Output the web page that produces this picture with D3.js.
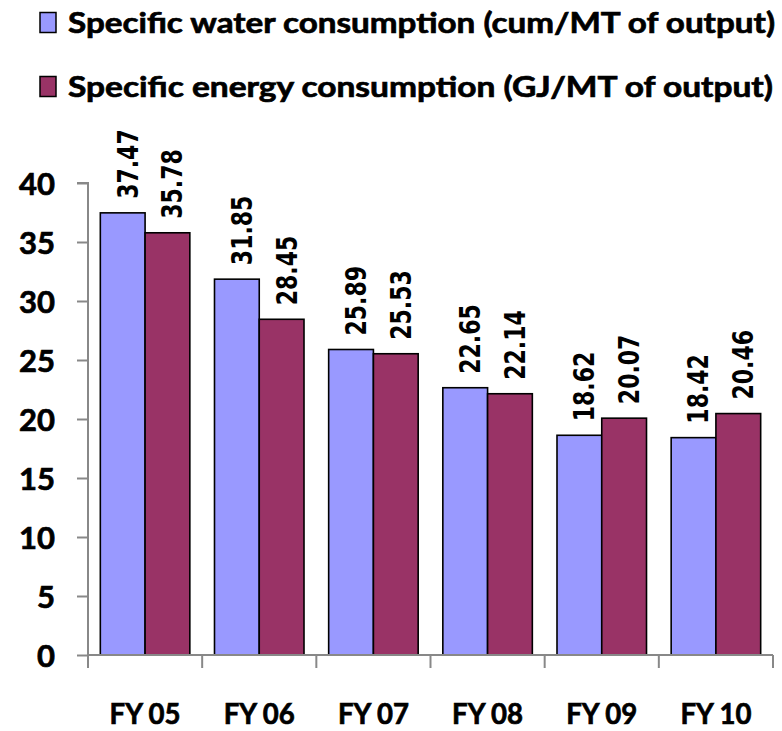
<!DOCTYPE html>
<html>
<head>
<meta charset="utf-8">
<script src="https://cdn.jsdelivr.net/npm/d3@7"></script>
<style>
  html, body { margin: 0; padding: 0; background: #fff; }
  svg { display: block; }
</style>
</head>
<body>
<svg id="chart" width="782" height="731"></svg>
<script>
const categories = ["FY 05", "FY 06", "FY 07", "FY 08", "FY 09", "FY 10"];
const seriesNames = ["Specific water consumption (cum/MT of output)", "Specific energy consumption (GJ/MT of output)"];
const waterValues = [37.47, 31.85, 25.89, 22.65, 18.62, 18.42];
const energyValues = [35.78, 28.45, 25.53, 22.14, 20.07, 20.46];
const yTicks = [0, 5, 10, 15, 20, 25, 30, 35, 40];
const colors = ["#9999FF", "#993366"];

(function () {
const svg = d3.select("#chart");
const mLeft = 88, mRight = 773, mTop = 183, mBottom = 655;

const x0 = d3.scaleBand().domain(categories).range([mLeft, mRight]).padding(0);
const bw = x0.bandwidth();
const pad = bw * 0.108;
const x1 = d3.scaleBand().domain([0, 1]).range([pad, bw - pad]).padding(0);
const y = d3.scaleLinear().domain([0, 40]).range([mBottom, mTop]);

const data = categories.map((c, i) => ({ cat: c, vals: [waterValues[i], energyValues[i]] }));

// bars
const g = svg.append("g");
const groups = g.selectAll("g.cat").data(data).join("g")
  .attr("transform", d => `translate(${x0(d.cat)},0)`);
groups.selectAll("rect").data(d => d.vals.map((v, s) => ({ v, s }))).join("rect")
  .attr("x", d => x1(d.s))
  .attr("width", x1.bandwidth())
  .attr("y", d => y(d.v))
  .attr("height", d => y(0) - y(d.v))
  .attr("fill", d => colors[d.s])
  .attr("stroke", "#000")
  .attr("stroke-width", 1.6);

// value labels
groups.selectAll("text.val").data(d => d.vals.map((v, s) => ({ v, s }))).join("text")
  .attr("class", "val")
  .attr("transform", d => `translate(${x1(d.s) + x1.bandwidth() / 2 + 5},${y(d.v) - 14}) scale(1.25,1) rotate(-90)`)
  .attr("dy", "0.36em")
  .attr("font-family", "DejaVu Sans")
  .attr("font-weight", "bold")
  .attr("font-size", 22)
  .attr("fill", "#000")
  .text(d => d.v.toFixed(2));

// y axis
const yAxis = d3.axisLeft(y).tickValues(yTicks).tickSize(11).tickPadding(22).tickFormat(d3.format("d"));
const ya = svg.append("g").attr("transform", `translate(${mLeft},0)`).call(yAxis);
ya.select(".domain").attr("stroke", "#888").attr("stroke-width", 2).attr("d", `M-11,${y(40)}H0V${y(0)}`);
ya.selectAll(".tick line").attr("stroke", "#888").attr("stroke-width", 2);
ya.selectAll(".tick text")
  .attr("font-family", "Lato")
  .attr("font-weight", "bold")
  .attr("font-size", 31)
  .attr("fill", "#000")
  .attr("stroke", "#000")
  .attr("stroke-width", 0.7)
  .attr("dy", "0.37em");

// x axis
const xAxis = d3.axisBottom(x0).tickSize(0).tickPadding(0);
const xa = svg.append("g").attr("transform", `translate(0,${mBottom})`).call(xAxis);
xa.select(".domain").attr("stroke", "#888").attr("stroke-width", 2).attr("d", `M${mLeft},0H${mRight}`);
xa.selectAll(".tick text")
  .attr("font-family", "Lato")
  .attr("font-weight", "bold")
  .attr("font-size", 29)
  .attr("fill", "#000")
  .attr("stroke", "#000")
  .attr("stroke-width", 0.7)
  .attr("y", 69)
  .attr("dy", 0)
  .attr("textLength", 71)
  .attr("lengthAdjust", "spacingAndGlyphs");
// boundary ticks
const bounds = categories.map(c => x0(c)).concat([mRight]);
xa.selectAll("line.bt").data(bounds).join("line")
  .attr("class", "bt")
  .attr("x1", d => d).attr("x2", d => d)
  .attr("y1", 0).attr("y2", 13)
  .attr("stroke", "#888").attr("stroke-width", 2);

// legend
const legend = svg.append("g");
const legY = [33, 97];
seriesNames.forEach((name, i) => {
  legend.append("rect")
    .attr("x", 40).attr("y", legY[i] - 20.5)
    .attr("width", 16).attr("height", 20)
    .attr("fill", colors[i]).attr("stroke", "#000").attr("stroke-width", 1.5);
  legend.append("text")
    .attr("x", 68).attr("y", legY[i])
    .attr("font-family", "Lato").attr("font-weight", "bold")
    .attr("font-size", 29).attr("fill", "#000")
    .attr("stroke", "#000").attr("stroke-width", 0.7)
    .attr("textLength", i === 0 ? 707 : 705)
    .attr("lengthAdjust", "spacingAndGlyphs")
    .text(name);
});
})();
</script>
</body>
</html>
